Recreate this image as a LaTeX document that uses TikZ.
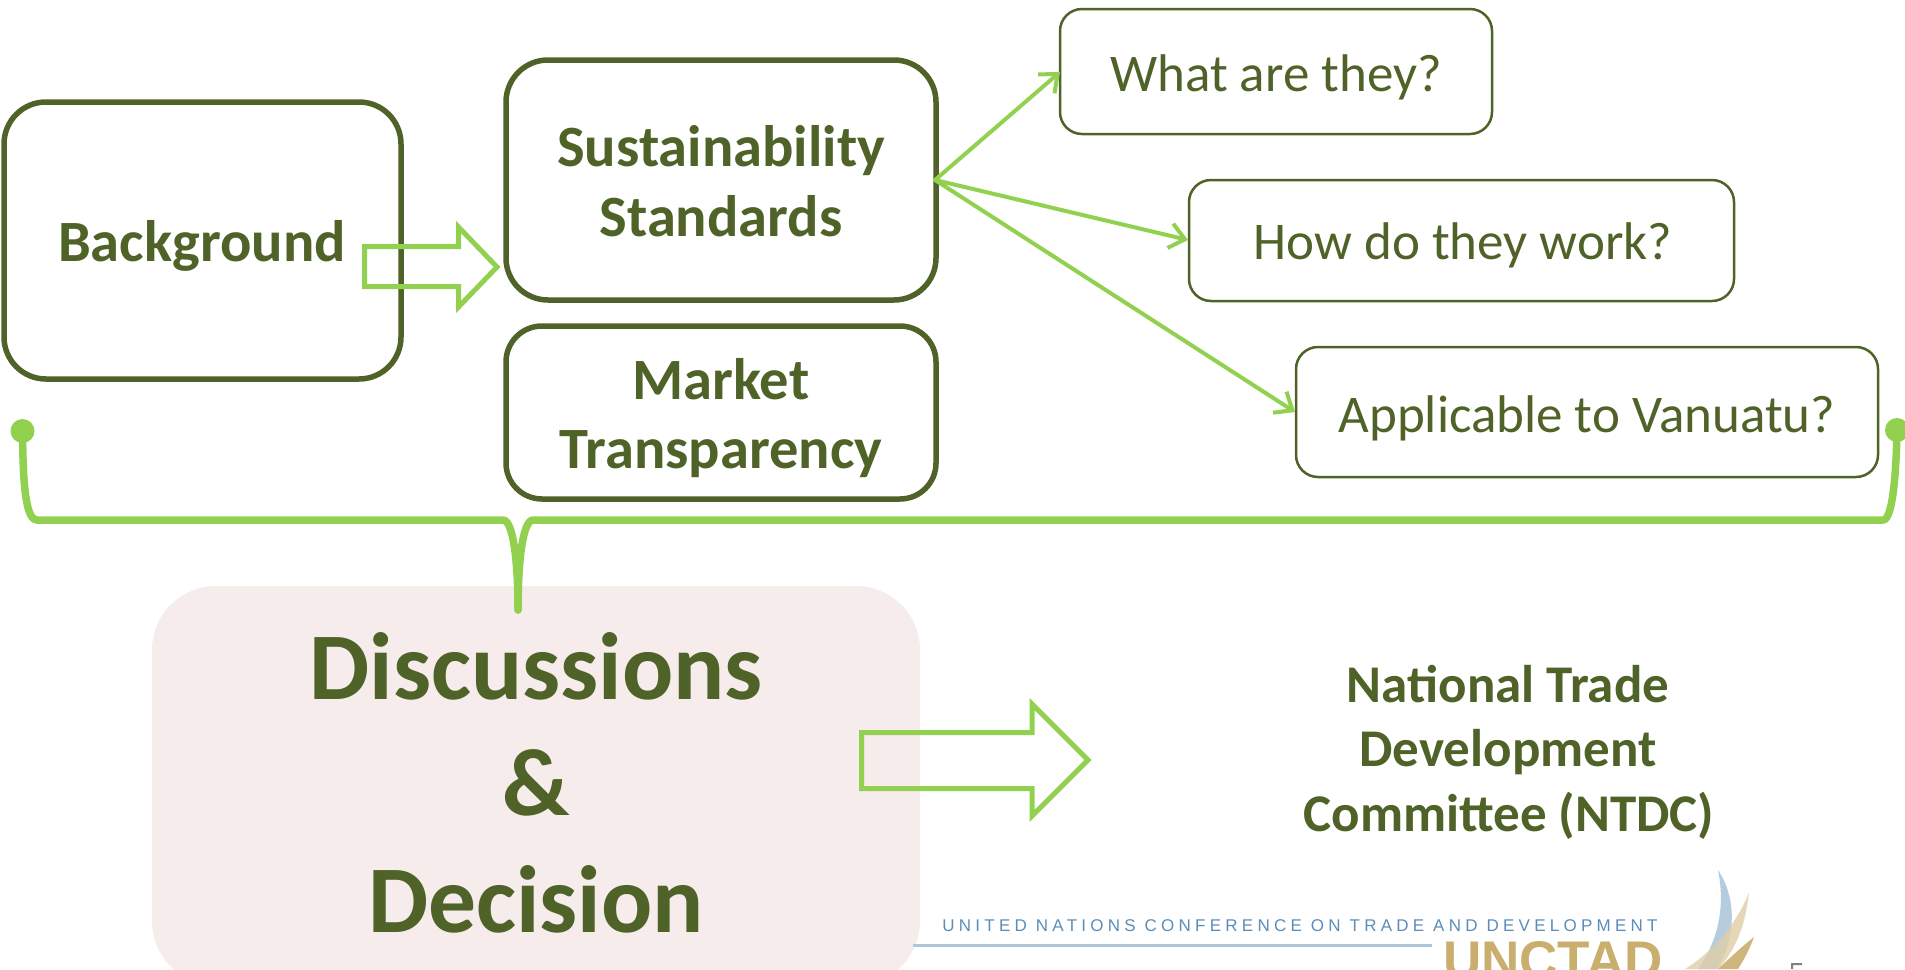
\documentclass[tikz,border=0pt]{standalone}
\usepackage{fontspec}
\setmainfont{Carlito}
\newfontfamily\logofont{Liberation Sans}
\newfontfamily\logospaced[LetterSpace=25]{Liberation Sans}
\usetikzlibrary{arrows.meta}
\definecolor{dk}{HTML}{4F6228}
\definecolor{lt}{HTML}{92D050}
\definecolor{pk}{HTML}{F6ECEC}
\definecolor{ub}{HTML}{5B8DB8}
\definecolor{ut}{HTML}{C9AE6E}
\newcommand{\fs}[1]{\fontsize{#1}{#1}\selectfont}
\tikzset{x=1pt,y=-1pt,
 heavybox/.style={draw=dk,line width=5.5pt,rounded corners=42pt,fill=white},
 thinbox/.style={draw=dk,line width=2.5pt,rounded corners=22pt,fill=white},
 boxtext/.style={text=dk,anchor=base,inner sep=0pt,font=\fs{58.5}\bfseries},
 plaintext/.style={text=dk,anchor=base,inner sep=0pt,font=\fs{53}},
 bigtext/.style={text=dk,anchor=base,inner sep=0pt,font=\fs{95.5}\bfseries},
 ntdctext/.style={text=dk,anchor=base,inner sep=0pt,font=\fs{53}\bfseries},
 conn/.style={draw=lt,line width=4pt,line cap=round,-{Straight Barb[length=15pt,width=25pt,line width=4pt]}},
 blockarrow/.style={draw=lt,line width=5pt,miter limit=8},
 brace/.style={draw=lt,line width=7.5pt,line cap=round,line join=round},
 dot/.style={circle,fill=lt,minimum size=24pt,inner sep=0pt}}
\begin{document}
\begin{tikzpicture}
\useasboundingbox (0,0) rectangle (1905,969);
\clip (0,0) rectangle (1905,969);
% pink panel
\fill[pk,rounded corners=64pt] (152,586) rectangle (920,985);
% logo
\node[text=ub,font=\fs{17}\logospaced,anchor=center,inner sep=0pt] (untext) at (1300,926) {UNITED NATIONS CONFERENCE ON TRADE AND DEVELOPMENT};
\fill[ub!50] (913,944) rectangle (1432,946.5);
\node[text=ut,font=\fs{53}\logofont\bfseries,anchor=base,inner sep=0pt] (unctad) at (1553,978) {UNCTAD};
\fill[ub!45] (1718,870) .. controls (1724,900) and (1722,935) .. (1698,969) -- (1717,969) .. controls (1735,940) and (1738,900) .. (1718,870) -- cycle;
\fill[ut!60,opacity=.8] (1749,893) .. controls (1735,925) and (1715,950) .. (1685,969) -- (1719,969) .. controls (1738,945) and (1745,925) .. (1749,893) -- cycle;
\fill[ut!90] (1754,937) .. controls (1740,948) and (1730,958) .. (1718,969) -- (1738,969) .. controls (1745,958) and (1750,948) .. (1754,937) -- cycle;
\fill[gray] (1791,963) rectangle (1802,965) (1791,963) rectangle (1793,969);
% boxes
\draw[heavybox] (4,102) rectangle (401,379);
\draw[heavybox] (506,60) rectangle (936,300);
\draw[heavybox,rounded corners=36pt] (506,326) rectangle (936,499);
\draw[thinbox] (1060,9) rectangle (1492,134);
\draw[thinbox] (1189,180) rectangle (1734,301);
\draw[thinbox] (1296,347) rectangle (1878,477);
% connectors
\coordinate (src) at (935,180);
\coordinate (e1) at (1060,72);
\coordinate (e2) at (1188,240);
\coordinate (e3) at (1295,412);
\draw[conn] (src) -- (e1);
\draw[conn] (src) -- (e2);
\draw[conn] (src) -- (e3);
% block arrows
\draw[blockarrow] (364.5,246.5) -- (458.5,246.5) -- (458.5,227) -- (497,267) -- (458.5,307) -- (458.5,286.5) -- (364.5,286.5) -- cycle;
\draw[blockarrow] (861.5,732.5) -- (1032,732.5) -- (1032,704) -- (1088,760) -- (1032,816) -- (1032,788.5) -- (861.5,788.5) -- cycle;
% brace
\node[dot] (dl) at (22.5,431) {};
\node[dot] (dr) at (1897,430) {};
\coordinate (tip) at (518,610);
\draw[brace] (dl.center) .. controls (23,480) and (25,520) .. (37,520) -- (503,520) .. controls (513,520) and (518,560) .. (tip);
\draw[brace] (tip) .. controls (518,560) and (523,520) .. (533,520) -- (1883,520) .. controls (1892,520) and (1896,480) .. (dr.center);
% text
\node[boxtext] (t1) at (202,261) {Background};
\node[boxtext] (t2a) at (721,166) {Sustainability};
\node[boxtext] (t2b) at (721,236) {Standards};
\node[boxtext] (t3a) at (721,399) {Market};
\node[boxtext] (t3b) at (721,468) {Transparency};
\node[plaintext] (t4) at (1276,91) {What are they?};
\node[plaintext] (t5) at (1463,259) {How do they work?};
\node[plaintext] (t6) at (1587,432) {Applicable to Vanuatu?};
\node[bigtext] (t7) at (536,699) {Discussions};
\node[bigtext] (t8) at (536,815) {\&};
\node[bigtext] (t9) at (536,932) {Decision};
\node[ntdctext] (t10) at (1508,702) {National Trade};
\node[ntdctext] (t11) at (1508,766) {Development};
\node[ntdctext] (t12) at (1509,831) {Committee (NTDC)};
\end{tikzpicture}
\end{document}
